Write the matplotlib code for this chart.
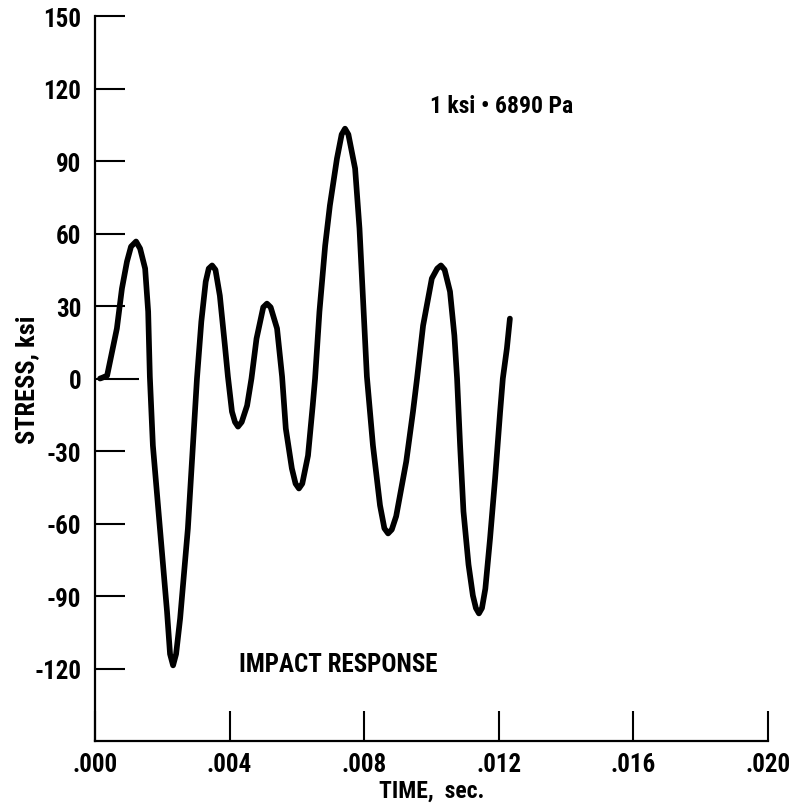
import matplotlib
matplotlib.use('Agg')
import matplotlib.pyplot as plt
import numpy as np

# values (time in s, stress in ksi)
time_s = [0.00015, 0.00021, 0.00036, 0.00065, 0.00080, 0.00095, 0.00107, 0.00122, 0.00134,
          0.00149, 0.00158, 0.00163, 0.00172, 0.00193, 0.00214, 0.00223, 0.00232, 0.00241,
          0.00253, 0.00276, 0.00291, 0.00303, 0.00316, 0.00329, 0.00338, 0.00348, 0.00358,
          0.00371, 0.00386, 0.00395, 0.00407, 0.00416, 0.00425, 0.00436, 0.00452, 0.00465,
          0.00480, 0.00500, 0.00511, 0.00522, 0.00541, 0.00556, 0.00567, 0.00585, 0.00596,
          0.00606, 0.00616, 0.00633, 0.00647, 0.00654, 0.00667, 0.00684, 0.00698, 0.00719,
          0.00733, 0.00743, 0.00753, 0.00773, 0.00786, 0.00796, 0.00808, 0.00826, 0.00847,
          0.00860, 0.00871, 0.00882, 0.00895, 0.00925, 0.00945, 0.00957, 0.00975, 0.01001,
          0.01017, 0.01028, 0.01039, 0.01055, 0.01068, 0.01076, 0.01085, 0.01095, 0.01110,
          0.01123, 0.01132, 0.01141, 0.01150, 0.01160, 0.01174, 0.01189, 0.01204, 0.01212,
          0.01224, 0.01233]
stress_ksi = [0.0, 0.3, 1.2, 20.7, 37.2, 48.4, 54.6, 56.7, 53.8,
              45.5, 27.7, 0.8, -27.7, -62.1, -96.4, -114.0, -118.7, -114.0,
              -99.3, -62.1, -27.7, 0.0, 23.6, 40.1, 45.5, 46.8, 45.0,
              34.3, 13.7, 0.8, -13.7, -18.0, -19.9, -18.0, -11.2, 0.0,
              16.5, 29.5, 31.0, 29.5, 20.7, 0.8, -20.7, -37.2, -43.5,
              -45.5, -43.5, -31.9, -11.2, 0.0, 27.7, 55.0, 71.6, 91.0,
              101.0, 103.4, 101.0, 86.9, 62.1, 34.3, 0.8, -27.7, -52.5,
              -62.0, -64.1, -62.5, -57.0, -34.3, -13.7, 0.0, 21.9, 41.4,
              45.5, 46.8, 45.0, 36.0, 17.8, 0.0, -27.7, -55.0, -77.0,
              -89.8, -95.0, -97.2, -95.0, -87.0, -66.2, -41.4, -13.7, 0.0,
              12.4, 24.8]

x_ticks = [0.000, 0.004, 0.008, 0.012, 0.016, 0.020]
x_labels = ['.000', '.004', '.008', '.012', '.016', '.020']
y_ticks = [150, 120, 90, 60, 30, 0, -30, -60, -90, -120]
y_labels = ['150', '120', '90', '60', '30', '0', '-30', '-60', '-90', '-120']

fonts = ['Roboto Condensed', 'Lato', 'DejaVu Sans']

fig = plt.figure(figsize=(7.97, 8.12), dpi=100)
ax = fig.add_axes([0.1192, 0.0862, 0.8444, 0.8928])

ax.plot(time_s, stress_ksi, color='black', lw=4.1, solid_joinstyle='round', solid_capstyle='round')

ax.set_xlim(0, 0.020)
ax.set_ylim(-150, 150)
ax.spines['top'].set_visible(False)
ax.spines['right'].set_visible(False)
ax.spines['left'].set_linewidth(1.6)
ax.spines['bottom'].set_linewidth(1.6)

ax.set_xticks(x_ticks)
ax.set_xticklabels(x_labels, family=fonts, fontsize=18, fontweight='bold')
ax.set_yticks(y_ticks)
ax.set_yticklabels(y_labels, family=fonts, fontsize=18, fontweight='bold')
ax.tick_params(axis='both', direction='in', length=21.5, width=1.5, color='black')
ax.tick_params(axis='x', pad=8)
ax.tick_params(axis='y', pad=10)

# the zero line tick is drawn longer in the original
for tk, v in zip(ax.yaxis.get_major_ticks(), y_ticks):
    if v == 0:
        tk.tick1line.set_markersize(32)

ax.set_xlabel('TIME,  sec.', family=fonts, fontsize=17, fontweight='bold', labelpad=2)
ax.set_ylabel('STRESS, ksi', family=fonts, fontsize=19, fontweight='bold', labelpad=-4)

ax.text(0.00996, 113, '1 ksi \u2022 6890 Pa', family=fonts, fontsize=17, fontweight='bold',
        ha='left', va='center')
ax.text(0.00428, -118, 'IMPACT RESPONSE', family=fonts, fontsize=18, fontweight='bold',
        ha='left', va='center')

fig.savefig('out.png', dpi=100)
